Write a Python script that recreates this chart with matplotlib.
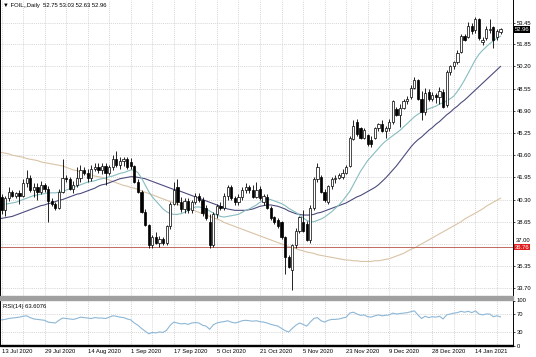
import matplotlib
matplotlib.use("Agg")
import matplotlib.pyplot as plt
from matplotlib.patches import Rectangle
import numpy as np

# daily OHLC, 13 Jul 2020 -> 25 Jan 2021 (140 bars)
opens = [40.5, 39.5, 40.4, 40.9, 40.6, 40.8, 40.6, 41.5, 41.9, 41.0,
         41.2, 40.9, 41.4, 41.1, 40.2, 40.0, 39.7, 40.9, 41.9, 41.8,
         41.1, 41.4, 41.9, 42.5, 42.3, 41.9, 42.6, 42.7, 42.5, 42.8,
         42.3, 42.7, 43.3, 42.9, 43.2, 43.3, 43.1, 42.8, 41.6, 40.9,
         39.4, 38.4, 36.9, 37.5, 37.1, 37.4, 37.1, 38.3, 40.0, 41.2,
         40.1, 39.6, 40.2, 39.5, 40.1, 40.6, 40.3, 39.7, 38.6, 36.9,
         39.2, 39.8, 39.7, 40.6, 41.2, 40.4, 40.1, 40.5, 41.0, 41.2,
         41.0, 40.5, 41.1, 40.1, 40.5, 39.7, 39.0, 38.8, 38.6, 37.5,
         36.0, 35.1, 36.9, 38.0, 38.6, 38.5, 37.3, 39.7, 41.8, 42.0,
         40.9, 40.1, 41.3, 41.8, 41.9, 42.0, 42.3, 42.8, 44.8, 46.1,
         45.6, 44.9, 45.1, 44.7, 44.9, 45.6, 45.9, 45.4, 45.6, 46.1,
         47.0, 46.6, 47.1, 47.6, 47.9, 48.6, 49.2, 47.8, 46.8, 48.3,
         47.8, 48.1, 47.9, 48.3, 47.3, 49.8, 50.2, 50.5, 51.3, 52.5,
         52.4, 53.2, 52.9, 53.7, 52.0, 52.3, 52.9, 53.1, 52.4, 52.75]
highs = [40.7, 40.6, 41.2, 41.0, 40.9, 41.0, 41.8, 42.5, 42.1, 41.5,
         41.5, 41.7, 41.5, 41.3, 40.4, 40.1, 41.1, 43.3, 42.1, 42.0,
         41.7, 42.7, 42.9, 42.7, 42.6, 42.9, 43.0, 43.0, 43.0, 43.0,
         42.9, 43.6, 43.9, 43.5, 43.5, 43.5, 43.4, 42.9, 41.8, 41.0,
         39.6, 38.5, 37.7, 37.9, 37.6, 37.5, 38.4, 40.1, 41.6, 41.8,
         40.5, 40.4, 40.4, 40.3, 40.8, 40.8, 40.5, 39.9, 39.2, 39.4,
         40.0, 40.1, 40.8, 41.4, 41.4, 40.6, 40.7, 41.2, 41.5, 41.4,
         41.4, 41.6, 41.3, 40.7, 40.7, 39.8, 39.1, 38.9, 38.7, 37.6,
         36.2, 37.0, 38.2, 39.1, 39.5, 38.7, 39.9, 42.0, 43.0, 42.1,
         41.1, 41.4, 42.0, 42.1, 42.3, 42.6, 42.9, 45.0, 46.2, 46.3,
         45.7, 45.6, 45.2, 45.0, 45.7, 46.0, 46.2, 45.8, 46.3, 47.7,
         47.2, 47.4, 47.8, 48.0, 48.8, 49.4, 49.3, 48.4, 48.6, 48.5,
         48.3, 48.2, 48.7, 48.5, 49.9, 50.3, 50.6, 51.4, 52.6, 52.6,
         53.5, 53.4, 53.9, 53.8, 52.4, 53.2, 53.7, 53.2, 53.0, 53.03]
lows = [39.2, 39.1, 40.2, 40.5, 40.4, 40.0, 40.5, 41.2, 40.9, 40.5,
        40.3, 40.7, 40.9, 38.6, 39.8, 39.5, 39.6, 40.8, 41.6, 41.0,
        40.8, 41.2, 41.6, 42.1, 41.6, 41.7, 42.4, 42.3, 42.2, 41.4,
        42.1, 42.5, 42.7, 42.6, 42.8, 42.6, 42.6, 41.5, 40.8, 39.3,
        38.3, 36.7, 36.7, 37.0, 36.8, 36.9, 36.9, 38.1, 39.9, 39.9,
        39.4, 39.3, 39.3, 39.3, 40.0, 40.1, 39.1, 38.8, 36.7, 36.8,
        38.9, 39.5, 39.5, 40.3, 40.3, 39.9, 39.9, 40.3, 40.8, 40.8,
        40.4, 40.4, 40.3, 39.9, 39.6, 38.8, 38.5, 38.2, 37.4, 34.8,
        35.2, 33.6, 36.7, 37.8, 37.9, 37.2, 37.1, 39.5, 41.6, 40.8,
        40.1, 40.0, 41.1, 41.5, 41.8, 41.8, 42.2, 42.7, 44.7, 45.0,
        44.8, 44.8, 44.3, 44.2, 44.8, 45.4, 45.3, 44.9, 45.4, 45.9,
        46.5, 45.7, 47.0, 47.4, 47.8, 48.5, 47.7, 46.2, 46.6, 47.6,
        47.6, 47.5, 47.4, 47.1, 47.2, 49.6, 50.0, 50.4, 51.2, 52.1,
        52.3, 52.6, 52.7, 52.2, 51.8, 52.2, 52.7, 51.6, 52.2, 52.63]
closes = [39.5, 40.4, 40.9, 40.6, 40.8, 40.6, 41.5, 41.9, 41.0, 41.2,
          40.9, 41.4, 41.1, 40.2, 40.0, 39.7, 40.9, 41.9, 41.8, 41.1,
          41.4, 41.9, 42.5, 42.3, 41.9, 42.6, 42.7, 42.5, 42.8, 42.3,
          42.7, 43.3, 42.9, 43.2, 43.3, 42.7, 42.8, 41.6, 40.9, 39.4,
          38.4, 36.9, 37.5, 37.1, 37.4, 37.1, 38.3, 40.0, 41.0, 40.1,
          39.6, 40.2, 39.5, 40.1, 40.6, 40.3, 39.3, 38.9, 36.9, 39.2,
          39.8, 39.7, 40.6, 41.2, 40.4, 40.1, 40.5, 41.0, 41.2, 41.0,
          40.5, 41.0, 40.4, 40.6, 39.7, 38.9, 38.6, 38.3, 37.5, 36.0,
          35.3, 36.9, 38.0, 39.0, 38.0, 37.3, 39.7, 41.8, 42.7, 40.9,
          40.3, 41.3, 41.8, 41.9, 42.1, 42.3, 42.7, 44.9, 45.8, 45.2,
          44.9, 45.5, 44.4, 44.4, 45.6, 45.9, 45.4, 45.6, 46.1, 47.6,
          46.6, 47.1, 47.6, 47.8, 48.6, 49.2, 47.8, 46.8, 48.2, 47.8,
          48.1, 47.9, 48.4, 47.2, 49.8, 50.2, 50.5, 51.2, 52.5, 52.2,
          53.2, 52.8, 53.7, 52.3, 52.2, 53.0, 53.0, 52.2, 52.8, 52.96]

# moving averages as shown on the chart
ma_fast = [39.9, 39.95, 40.0, 40.05, 40.1, 40.2, 40.3, 40.4, 40.5, 40.6,
           40.65, 40.7, 40.75, 40.8, 40.8, 40.8, 40.85, 40.9, 41.0, 41.1,
           41.2, 41.3, 41.4, 41.5, 41.6, 41.65, 41.7, 41.8, 41.85, 41.9,
           42.0, 42.05, 42.15, 42.25, 42.3, 42.4, 42.5, 42.5, 42.3, 41.9,
           41.4, 40.9, 40.5, 40.2, 39.9, 39.6, 39.4, 39.25, 39.2, 39.2,
           39.25, 39.35, 39.5, 39.65, 39.75, 39.75, 39.7, 39.6, 39.45, 39.3,
           39.15, 39.05, 39.0, 39.05, 39.1, 39.15, 39.2, 39.35, 39.5, 39.6,
           39.75, 39.9, 40.1, 40.25, 40.35, 40.3, 40.2, 40.1, 40.0, 39.85,
           39.65, 39.5, 39.35, 39.15, 38.95, 38.75, 38.65, 38.65, 38.75, 38.85,
           39.0, 39.2, 39.4, 39.65, 39.9, 40.2, 40.55, 40.9, 41.4, 41.9,
           42.4, 42.8, 43.2, 43.5, 43.8, 44.1, 44.4, 44.65, 44.85, 45.05,
           45.25, 45.45, 45.7, 45.95, 46.2, 46.45, 46.65, 46.8, 46.95, 47.05,
           47.15, 47.25, 47.4, 47.5, 47.65, 47.8, 48.0, 48.35, 48.75, 49.2,
           49.7, 50.2, 50.7, 51.1, 51.4, 51.65, 51.9, 52.1, 52.3, 52.45]
ma_mid = [38.9, 38.95, 39.0, 39.05, 39.15, 39.25, 39.35, 39.45, 39.55, 39.65,
          39.75, 39.85, 39.9, 40.0, 40.05, 40.15, 40.25, 40.3, 40.4, 40.5,
          40.6, 40.7, 40.75, 40.85, 40.95, 41.05, 41.15, 41.3, 41.4, 41.45,
          41.55, 41.65, 41.75, 41.85, 41.9, 41.95, 42.0, 42.0, 41.95, 41.9,
          41.85, 41.75, 41.65, 41.55, 41.45, 41.35, 41.25, 41.15, 41.05, 41.0,
          40.9, 40.8, 40.7, 40.6, 40.5, 40.4, 40.3, 40.2, 40.1, 40.0,
          39.9, 39.8, 39.7, 39.6, 39.55, 39.5, 39.5, 39.5, 39.5, 39.55,
          39.6, 39.7, 39.8, 39.85, 39.9, 39.9, 39.85, 39.8, 39.7, 39.6,
          39.45, 39.35, 39.25, 39.2, 39.15, 39.15, 39.15, 39.2, 39.3, 39.35,
          39.45, 39.55, 39.65, 39.75, 39.85, 39.95, 40.05, 40.2, 40.35, 40.5,
          40.6, 40.75, 40.9, 41.05, 41.2, 41.4, 41.65, 41.9, 42.2, 42.5,
          42.8, 43.15, 43.5, 43.85, 44.2, 44.5, 44.75, 44.95, 45.2, 45.45,
          45.65, 45.9, 46.1, 46.35, 46.6, 46.8, 47.05, 47.25, 47.5, 47.7,
          47.95, 48.2, 48.45, 48.7, 48.95, 49.2, 49.45, 49.7, 49.95, 50.2]
ma_slow = [43.8, 43.75, 43.7, 43.6, 43.55, 43.5, 43.45, 43.35, 43.3, 43.25,
           43.2, 43.1, 43.05, 43.0, 42.95, 42.9, 42.85, 42.8, 42.7, 42.6,
           42.5, 42.45, 42.35, 42.25, 42.15, 42.1, 42.05, 42.0, 41.95, 41.85,
           41.75, 41.65, 41.55, 41.45, 41.35, 41.3, 41.2, 41.15, 41.05, 40.95,
           40.85, 40.75, 40.65, 40.55, 40.45, 40.35, 40.25, 40.15, 40.05, 39.95,
           39.85, 39.75, 39.65, 39.55, 39.45, 39.35, 39.25, 39.15, 39.05, 38.95,
           38.85, 38.75, 38.6, 38.5, 38.4, 38.3, 38.2, 38.1, 38.0, 37.9,
           37.8, 37.7, 37.6, 37.5, 37.4, 37.3, 37.2, 37.1, 37.0, 36.9,
           36.8, 36.75, 36.65, 36.55, 36.5, 36.4, 36.35, 36.3, 36.2, 36.15,
           36.1, 36.05, 36.0, 35.95, 35.9, 35.85, 35.8, 35.8, 35.75, 35.75,
           35.7, 35.7, 35.7, 35.7, 35.75, 35.75, 35.8, 35.85, 35.9, 36.0,
           36.1, 36.2, 36.3, 36.45, 36.6, 36.7, 36.85, 37.0, 37.15, 37.3,
           37.45, 37.6, 37.75, 37.9, 38.05, 38.2, 38.35, 38.5, 38.65, 38.85,
           39.0, 39.15, 39.3, 39.45, 39.6, 39.8, 39.95, 40.1, 40.25, 40.4]

rsi = [57, 58, 60, 61, 62, 63, 65, 66, 62, 59,
       58, 57, 56, 52, 51, 50, 56, 61, 60, 59,
       58, 60, 63, 62, 61, 60, 62, 61, 61, 60,
       63, 66, 65, 63, 62, 59, 57, 50, 45, 38,
       32, 26, 29, 28, 30, 29, 34, 45, 52, 50,
       48, 49, 47, 50, 51, 50, 45, 43, 36, 46,
       50, 52, 53, 55, 52, 50, 52, 55, 56, 55,
       54, 55, 53, 52, 50, 47, 45, 43, 38, 33,
       30, 38, 45, 50, 47, 43, 52, 60, 62, 55,
       52, 56, 58, 58, 59, 61, 63, 72, 74, 70,
       67, 68, 64, 63, 66, 68, 66, 67, 68, 72,
       70, 71, 72, 73, 75, 77, 68, 60, 65, 62,
       64, 63, 65, 59, 68, 70, 72, 73, 76, 74,
       76, 73, 77, 70, 68, 70, 70, 64, 66, 63.6]

date_labels = ["13 Jul 2020", "29 Jul 2020", "14 Aug 2020", "1 Sep 2020",
               "17 Sep 2020", "5 Oct 2020", "21 Oct 2020", "5 Nov 2020",
               "23 Nov 2020", "9 Dec 2020", "28 Dec 2020", "14 Jan 2021"]
price_levels = [53.45, 51.85, 50.20, 48.55, 46.90, 45.25, 43.60, 41.95,
                40.30, 38.65, 37.00, 35.35, 33.70]
hline_level = 36.76
last_price = 52.96

W, H = 536, 357
fig = plt.figure(figsize=(W / 100, H / 100), dpi=100)
fig.patch.set_facecolor("white")

plot_right = 513
main_top, main_bot = 0, 296
rsi_top, rsi_bot = 300.5, 345.5

ax = fig.add_axes([0, 1 - main_bot / H, plot_right / W, (main_bot - main_top) / H])
ax_r = fig.add_axes([0, 1 - rsi_bot / H, plot_right / W, (rsi_bot - rsi_top) / H])

n = len(closes)
x = np.arange(n)
bar_px = 3.59
xlim = (-1.5 / bar_px, (plot_right - 1.5) / bar_px)

font = "Liberation Sans"
fs = 4.2

# ---- main price panel ----
ax.set_xlim(*xlim)
ax.set_ylim(33.13, 55.14)

grid_kw = dict(color="#c8c8c8", lw=0.5, ls=(0, (1.5, 1.5)), zorder=0)
for lv in price_levels:
    ax.axhline(lv, **grid_kw)
for k in range(0, n + 12, 6):
    ax.axvline(k, **grid_kw)
    ax_r.axvline(k, **grid_kw)

ax.plot(x, ma_slow, color="#d9c3a5", lw=0.8, zorder=2)
ax.plot(x, ma_mid, color="#4b4b7d", lw=0.8, zorder=2)
ax.plot(x, ma_fast, color="#86bcc0", lw=0.8, zorder=2)
ax.axhline(hline_level, color="#c06a60", lw=0.7, zorder=2)

o = np.array(opens)
c = np.array(closes)
up = c >= o
ax.vlines(x, lows, highs, color="black", lw=0.6, zorder=3)
body_h = np.maximum(np.abs(c - o), 0.04)
ax.bar(x[up], body_h[up], bottom=o[up], width=0.62, color="white",
       edgecolor="black", linewidth=0.5, zorder=4)
ax.bar(x[~up], body_h[~up], bottom=c[~up], width=0.62, color="black",
       edgecolor="black", linewidth=0.5, zorder=4)

# right price scale; 37.00 is drawn by hand just above the red price box
ax.yaxis.tick_right()
ax.set_yticks(price_levels)
ax.set_yticklabels(["" if v == 37.00 else f"{v:.2f}" for v in price_levels],
                   fontsize=fs, fontname=font)
ax.tick_params(axis="y", length=1.5, width=0.5, pad=1.0, colors="black")
ax.set_xticks([])
for s in ["top", "bottom"]:
    ax.spines[s].set_visible(False)
for s in ["left", "right"]:
    ax.spines[s].set_linewidth(0.7)

ytr = ax.get_yaxis_transform()
lab_x = 1.0 + 3.2 / plot_right
ax.text(lab_x, 37.06, "37.00", transform=ytr, fontsize=fs, fontname=font,
        va="bottom", ha="left", clip_on=False)
ax.text(1.0 + 1.5 / plot_right, last_price, f"{last_price:.2f}", transform=ytr,
        fontsize=fs, fontname=font, color="white", va="center", ha="left",
        bbox=dict(boxstyle="square,pad=0.15", fc="black", ec="none"), zorder=6,
        clip_on=False)
ax.text(1.0 + 1.5 / plot_right, hline_level, f"{hline_level:.2f}", transform=ytr,
        fontsize=fs, fontname=font, color="white", va="center", ha="left",
        bbox=dict(boxstyle="square,pad=0.12", fc="#e02020", ec="none"), zorder=6,
        clip_on=False)

ax.text(3 / plot_right, 1 - 6 / main_bot, "\u25bc FOIL,,Daily  52.75 53.03 52.63 52.96",
        transform=ax.transAxes, fontsize=fs, fontname=font, va="center", ha="left")

# ---- RSI panel ----
ax_r.set_xlim(*xlim)
ax_r.set_ylim(0, 100)
for lv in [70, 30]:
    ax_r.axhline(lv, **grid_kw)
ax_r.plot(x, rsi, color="#8db7d6", lw=0.8, zorder=3)
ax_r.yaxis.tick_right()
ax_r.set_yticks([100, 70, 30, 0])
ax_r.set_yticklabels(["100", "70", "30", "0"], fontsize=fs, fontname=font)
ax_r.tick_params(axis="y", length=1.5, width=0.5, pad=1.0)
ax_r.set_xticks([])
for s in ["top", "bottom"]:
    ax_r.spines[s].set_visible(False)
for s in ["left", "right"]:
    ax_r.spines[s].set_linewidth(0.7)
ax_r.text(3 / plot_right, 0.86, "RSI(14) 63.6076", transform=ax_r.transAxes,
          fontsize=fs, fontname=font, va="center", ha="left")

xtr = ax_r.get_xaxis_transform()
for k, lab in enumerate(date_labels):
    ax_r.text(12 * k, -6 / (rsi_bot - rsi_top), lab, transform=xtr, fontsize=fs,
              fontname=font, va="center", ha="left", clip_on=False)

# panel separator and frame lines
fig.patches.append(Rectangle((0, 1 - 300 / H), plot_right / W, 4 / H,
                             transform=fig.transFigure, color="#a0a0a0", zorder=5))
fig.patches.append(Rectangle((0, 1 - 346 / H), plot_right / W, 0.8 / H,
                             transform=fig.transFigure, color="black", zorder=5))

fig.savefig("out.png", dpi=100)
